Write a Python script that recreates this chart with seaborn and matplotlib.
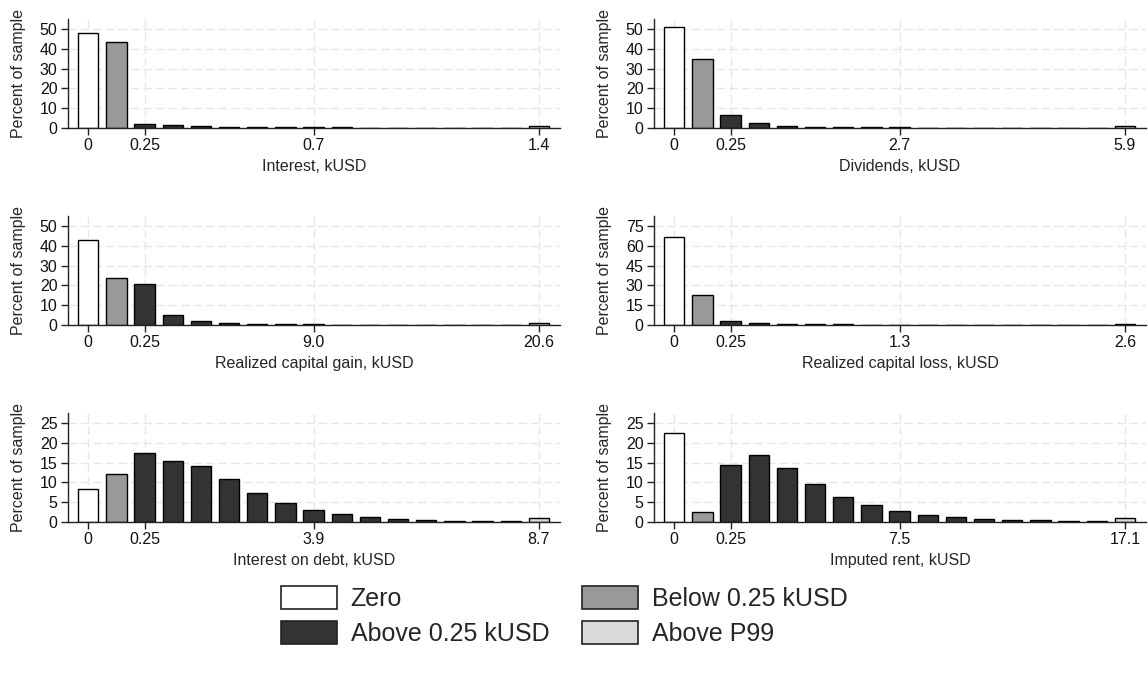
import numpy as np
import pandas as pd
import matplotlib
matplotlib.use("Agg")
import matplotlib.pyplot as plt
from matplotlib.patches import Patch
import seaborn as sns

# ---- data -------------------------------------------------------------
groups = ["Zero", "Below 0.25 kUSD", "Above 0.25 kUSD", "Above P99"]
group_colors = ["#ffffff", "#999999", "#333333", "#d9d9d9"]

titles = [
    "Interest, kUSD",
    "Dividends, kUSD",
    "Realized capital gain, kUSD",
    "Realized capital loss, kUSD",
    "Interest on debt, kUSD",
    "Imputed rent, kUSD",
]

interest = [48.0, 43.2, 2.0, 1.3, 0.8, 0.5, 0.4, 0.35, 0.3, 0.3, 0.25, 0.25, 0.2, 0.2, 0.2, 0.2, 1.0]
dividends = [51.0, 34.7, 6.5, 2.3, 1.0, 0.6, 0.4, 0.35, 0.3, 0.25, 0.2, 0.2, 0.2, 0.15, 0.15, 0.15, 1.0]
cap_gain = [42.7, 23.8, 20.5, 5.0, 2.0, 1.0, 0.6, 0.4, 0.3, 0.2, 0.2, 0.2, 0.2, 0.15, 0.15, 0.15, 1.0]
cap_loss = [66.8, 22.4, 3.0, 1.5, 0.7, 0.6, 0.4, 0.3, 0.3, 0.25, 0.2, 0.2, 0.2, 0.2, 0.2, 0.2, 1.0]
debt_interest = [8.3, 12.0, 17.3, 15.4, 14.1, 10.9, 7.4, 4.8, 3.1, 1.9, 1.3, 0.85, 0.6, 0.35, 0.3, 0.2, 1.0]
imputed_rent = [22.4, 2.5, 14.3, 16.8, 13.5, 9.6, 6.3, 4.2, 2.8, 1.8, 1.3, 0.85, 0.6, 0.4, 0.3, 0.3, 1.0]

series = [interest, dividends, cap_gain, cap_loss, debt_interest, imputed_rent]

mid_labels = ["0.7", "2.7", "9.0", "1.3", "3.9", "7.5"]
max_labels = ["1.4", "5.9", "20.6", "2.6", "8.7", "17.1"]
ytick_sets = [
    [0, 10, 20, 30, 40, 50],
    [0, 10, 20, 30, 40, 50],
    [0, 10, 20, 30, 40, 50],
    [0, 15, 30, 45, 60, 75],
    [0, 5, 10, 15, 20, 25],
    [0, 5, 10, 15, 20, 25],
]

# ---- style ------------------------------------------------------------
sns.set_theme(style="white")
plt.rcParams["font.family"] = ["Liberation Sans", "DejaVu Sans"]
plt.rcParams["axes.edgecolor"] = "#222222"

W, H = 1148, 677
fig = plt.figure(figsize=(W / 100, H / 100), dpi=100)
fig.patch.set_facecolor("white")

col_left = [68, 654]
ax_w = 492
row_top = [19, 216, 413]
ax_h = 109


def px_axes(left, top, w, h):
    return fig.add_axes([left / W, 1 - (top + h) / H, w / W, h / H])


def group_of(i, n):
    if i == 0:
        return groups[0]
    if i == 1:
        return groups[1]
    if i == n - 1:
        return groups[3]
    return groups[2]


fs = 11.5
for k, vals in enumerate(series):
    r, c = divmod(k, 2)
    ax = px_axes(col_left[c], row_top[r], ax_w, ax_h)
    n = len(vals)
    df = pd.DataFrame({
        "bin": np.arange(n),
        "pct": vals,
        "group": [group_of(i, n) for i in range(n)],
    })
    ax.set_axisbelow(True)
    sns.barplot(
        data=df, x="bin", y="pct", hue="group", hue_order=groups,
        palette=group_colors, dodge=False, width=0.72,
        edgecolor="black", linewidth=1.0, legend=False, ax=ax,
        order=list(range(n)),
    )
    yt = ytick_sets[k]
    ax.set_ylim(0, yt[-1] * 1.1)
    ax.set_yticks(yt)
    ax.set_yticklabels([str(v) for v in yt], fontsize=fs)
    ax.set_xlim(-0.72, n - 1 + 0.75)
    ax.set_xticks([0, 2, 8, n - 1])
    ax.set_xticklabels(["0", "0.25", mid_labels[k], max_labels[k]], fontsize=fs)
    ax.set_xlabel(titles[k], fontsize=fs, labelpad=4)
    ax.set_ylabel("Percent of sample", fontsize=fs, labelpad=10)
    ax.grid(True, axis="both", color="#e6e6e6", linestyle=(0, (6, 3)), linewidth=1.0)
    for side in ["top", "right"]:
        ax.spines[side].set_visible(False)
    for side in ["left", "bottom"]:
        ax.spines[side].set_linewidth(1.0)
        ax.spines[side].set_color("#222222")
    ax.tick_params(axis="both", which="major", direction="out", length=5,
                   width=1.0, color="#222222", pad=2.5, labelcolor="#111111",
                   bottom=True, left=True)
    ax.set_facecolor("white")

# ---- legend -----------------------------------------------------------
handles = [Patch(facecolor=col, edgecolor="#222222", linewidth=1.2, label=g)
           for g, col in zip(groups, group_colors)]
order = [0, 2, 1, 3]
fig.legend(
    [handles[i] for i in order], [groups[i] for i in order],
    ncol=2, loc="center", bbox_to_anchor=(564 / W, 1 - 616 / H),
    frameon=False, fontsize=18, handlelength=2.25, handleheight=1.05,
    handletextpad=0.55, columnspacing=1.3, labelspacing=0.42,
)

fig.savefig("out.png", dpi=100, facecolor="white")
